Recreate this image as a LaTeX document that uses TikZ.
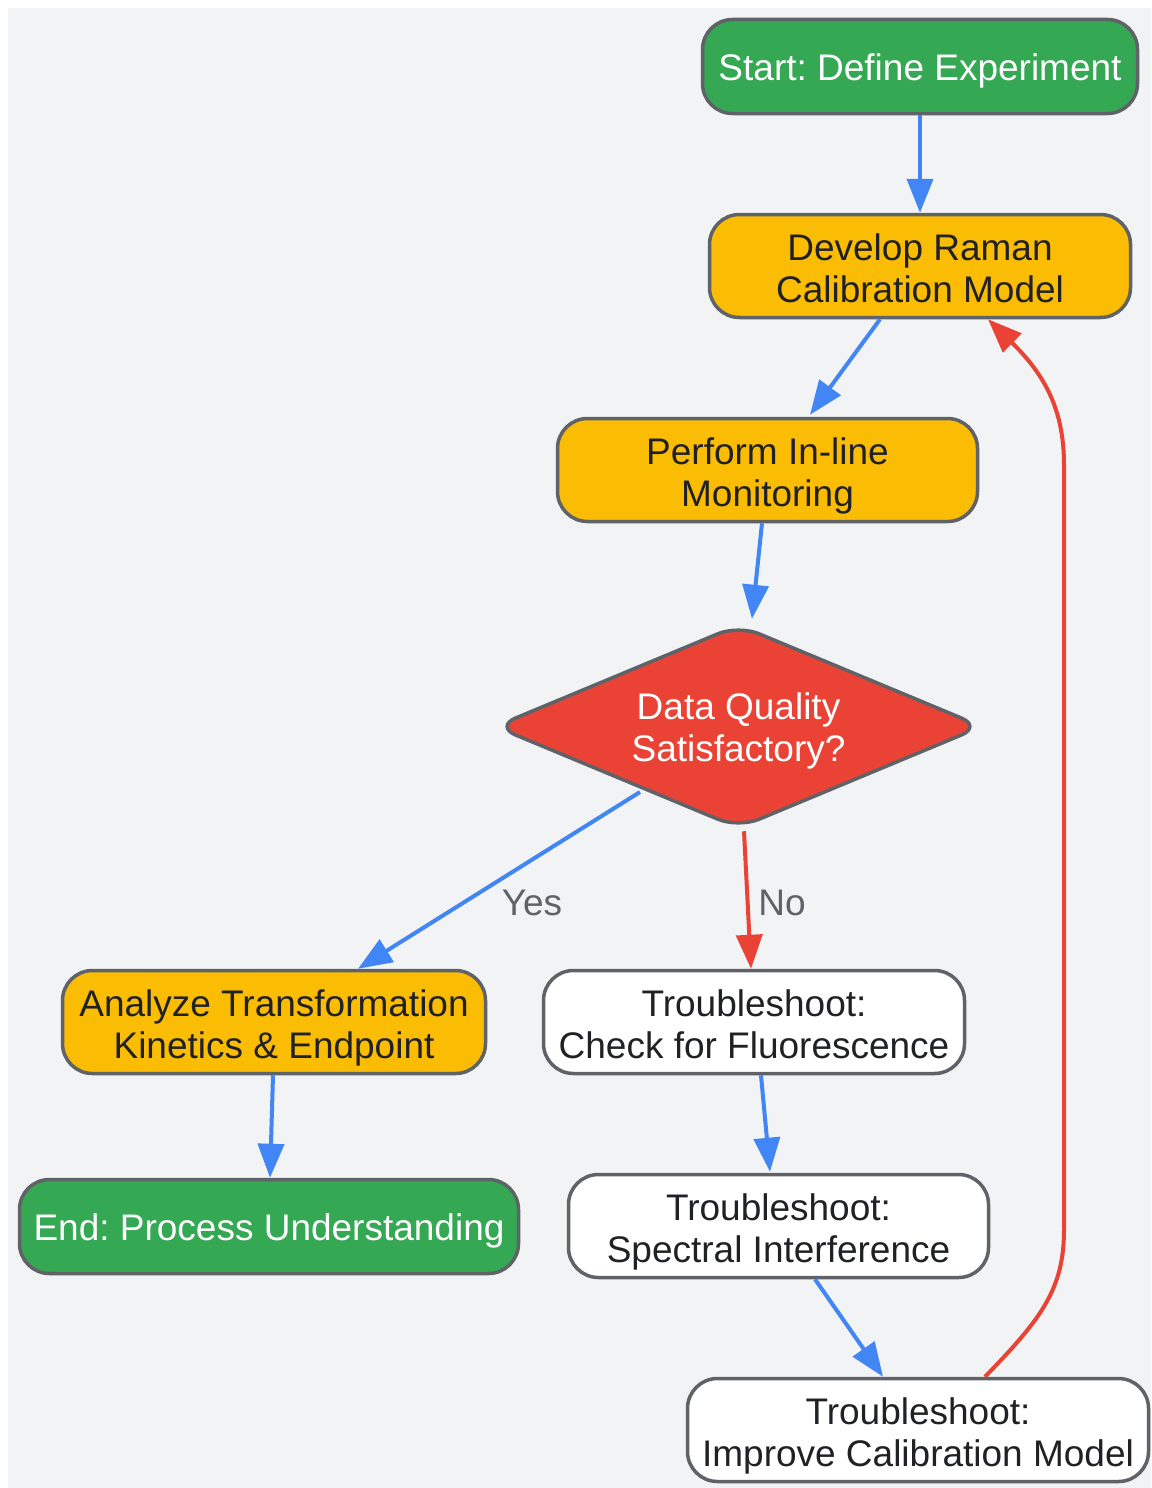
\documentclass[tikz,border=0pt]{standalone}
\usepackage{fontspec}
\setmainfont{Liberation Sans}
\usetikzlibrary{arrows.meta,shapes.geometric,calc}
\definecolor{bgc}{HTML}{F1F3F4}
\definecolor{ggreen}{HTML}{34A853}
\definecolor{gyellow}{HTML}{FBBC04}
\definecolor{gred}{HTML}{EA4335}
\definecolor{gblue}{HTML}{4285F4}
\definecolor{bordergray}{HTML}{5F6368}
\definecolor{txt}{HTML}{202124}
\frenchspacing
\begin{document}
\begin{tikzpicture}[x=1pt,y=-1pt,
  nodetext/.style={font=\fontsize{37}{42}\selectfont\frenchspacing, align=center, inner sep=0pt,
    text depth=12.6pt},
  oneline/.style={text height=40pt},
  twoline/.style={text height=84.6pt},
  box/.style={nodetext, rounded corners=30pt, draw=bordergray, line width=3.5pt, text=txt},
  greenbox/.style={box, oneline, fill=ggreen, text=white, minimum height=94pt},
  yellowbox/.style={box, twoline, fill=gyellow, minimum height=103pt},
  whitebox/.style={box, twoline, fill=white, minimum height=103pt},
  decision/.style={nodetext, text height=82.6pt, diamond, draw=bordergray, line width=3.5pt,
    fill=gred, text=white, aspect=2.37, minimum width=488pt, minimum height=204pt,
    rounded corners=22pt},
  tip/.style={-{Triangle[length=34pt,width=26pt]}},
  blueflow/.style={tip, draw=gblue, line width=4pt},
  redflow/.style={tip, draw=gred, line width=4pt},
  lbl/.style={font=\fontsize{37}{42}\selectfont, text=bordergray, inner sep=0pt}
]
\useasboundingbox (0,0) rectangle (1151,1488);
\fill[bgc] (8,8) rectangle (1151,1488);

\node[greenbox, minimum width=435pt] (start) at (920,66.5) {Start: Define Experiment};
\node[yellowbox, minimum width=421pt] (dev) at (920,266) {Develop Raman\\Calibration Model};
\node[yellowbox, minimum width=420pt] (perf) at (767.5,470) {Perform In-line\\Monitoring};
\node[decision] (dq) at (738.5,726.5) {Data Quality\\Satisfactory?};
\node[yellowbox, minimum width=423pt] (an) at (274,1022) {Analyze Transformation\\Kinetics \& Endpoint};
\node[whitebox, minimum width=421pt] (chk) at (754,1022) {Troubleshoot:\\Check for Fluorescence};
\node[greenbox, minimum width=499pt] (fin) at (269,1226.5) {End: Process Understanding};
\node[whitebox, minimum width=420pt] (spec) at (778.5,1226) {Troubleshoot:\\Spectral Interference};
\node[whitebox, minimum width=461pt] (imp) at (918,1430) {Troubleshoot:\\Improve Calibration Model};

\node[lbl] (yes) at (532,903) {Yes};
\node[lbl] (no) at (782,903) {No};

\draw[blueflow] (start.south) -- (dev.north);
\draw[blueflow] ([xshift=-40pt]dev.south) -- ([xshift=42.5pt,yshift=2pt]perf.north);
\draw[blueflow] ([xshift=-5.5pt]perf.south) -- ([xshift=13.5pt,yshift=4pt]dq.north);
\draw[blueflow] ([xshift=-98.5pt,yshift=-65.5pt]dq.center) -- ([xshift=84pt]an.north);
\draw[redflow] ([xshift=5.5pt,yshift=-1pt]dq.south) -- ([xshift=-3pt]chk.north);
\draw[blueflow] ([xshift=-1pt]an.south) -- ([xshift=1pt]fin.north);
\draw[blueflow] ([xshift=7pt]chk.south) -- ([xshift=-8.5pt,yshift=1pt]spec.north);
\draw[blueflow] ([xshift=36.5pt]spec.south) -- ([xshift=-35pt]imp.north);
\draw[redflow] ([xshift=67pt]imp.north) .. controls (1040,1320) and (1064,1290) .. (1064,1230)
  -- (1064,465) .. controls (1064,410) and (1045,375) .. ([xshift=68pt]dev.south);
\end{tikzpicture}
\end{document}
